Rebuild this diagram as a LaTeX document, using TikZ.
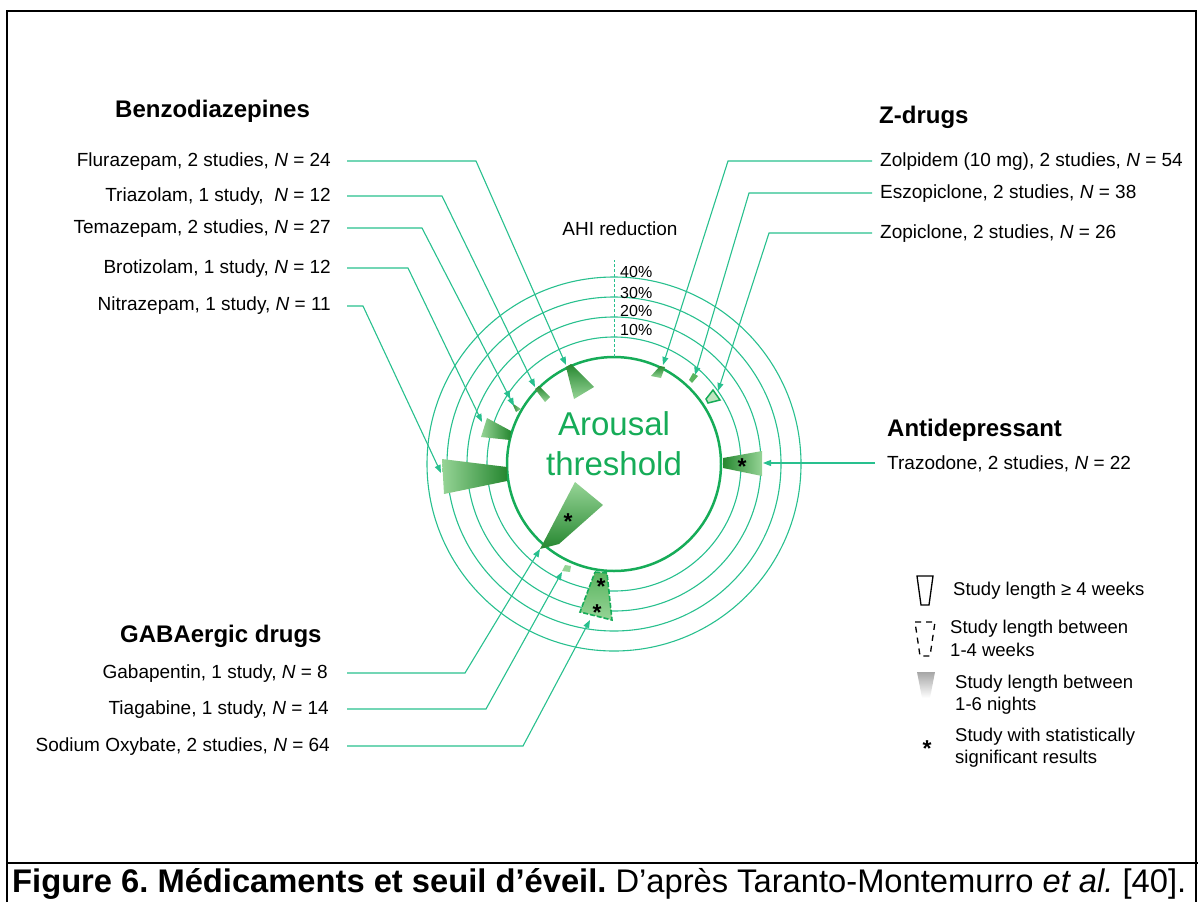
\documentclass[tikz,border=0pt]{standalone}
\usepackage{fontspec}
\setmainfont{Liberation Sans}
\usetikzlibrary{positioning}
\usetikzlibrary{arrows.meta}

\begin{document}
\frenchspacing
\begin{tikzpicture}[x=1pt, y=-1pt,
    ring/.style={draw=ringc, line width=1.1pt},
    arr/.style={draw=ringc, line width=1.1pt, -{Triangle[length=8pt,width=6pt]}},
    lbl/.style={anchor=base east, inner sep=0pt, font=\fontsize{19}{22}\selectfont},
    lblr/.style={anchor=base west, inner sep=0pt, font=\fontsize{19}{22}\selectfont},
    hd/.style={anchor=base west, inner sep=0pt, font=\fontsize{24}{28}\selectfont\bfseries},
    lgd/.style={anchor=base west, inner sep=0pt, font=\fontsize{18.5}{22}\selectfont},
    pct/.style={anchor=west, inner sep=0pt, font=\fontsize{16}{18}\selectfont},
    ast/.style={inner sep=0pt, anchor=base, yshift=-11pt, font=\fontsize{23}{23}\selectfont\bfseries}
    ]
\definecolor{ringc}{RGB}{40,192,142}
\definecolor{circc}{RGB}{22,172,88}
\definecolor{darkg}{RGB}{38,135,48}
\definecolor{midg}{RGB}{90,180,95}
\definecolor{lightg}{RGB}{150,212,150}
\useasboundingbox (0,0) rectangle (1198,902);
\draw[line width=2.5pt] (7,902) -- (7,11) -- (1196,11) -- (1196,902);
\draw[line width=2.7pt] (7,863) -- (1198,863);

\coordinate (CTR) at (614,464);
\foreach \r in {127,147,167,187}
    \draw[ring] (CTR) circle (\r);
\draw[circc, line width=2.5pt] (CTR) circle (107);
\draw[ringc, line width=0.8pt, dash pattern=on 3pt off 2pt] (614,357) -- (614,260);
\node[pct] (P10) at (620,330) {10\%};
\node[pct] (P20) at (620,311) {20\%};
\node[pct] (P30) at (620,293) {30\%};
\node[pct] (P40) at (620,272) {40\%};
\node[font=\fontsize{19}{22}\selectfont] (AHI) at (620,229) {AHI reduction};
\node[anchor=base, inner sep=0pt, text=circc, font=\fontsize{33}{36}\selectfont] (ATa) at (614,435) {Arousal};
\node[anchor=base, inner sep=0pt, text=circc, font=\fontsize{33}{36}\selectfont] (ATb) at (614,475) {threshold};

% wedges
\shade[left color=lightg, right color=darkg] (442,459) -- (507,467) -- (507,481) -- (444,494) -- cycle;
\shade[left color=lightg, right color=darkg] (487,418) -- (511,431) -- (510,440) -- (481,437) -- cycle;
\shade[left color=darkg, right color=lightg] (512,403) -- (521,409) -- (516,412) -- cycle;
\shade[top color=darkg, bottom color=lightg] (535,389) -- (539,386) -- (550,397) -- (545,402) -- cycle;
\shade[top color=darkg, bottom color=lightg] (566,367) -- (571,364) -- (594,387) -- (574,399) -- cycle;
\shade[top color=darkg, bottom color=lightg] (660,366) -- (665,367) -- (661,378) -- (651,376) -- cycle;
\fill[midg] (689,380) -- (693,373) -- (698,376) -- (692,383) -- cycle;
\draw[circc, line width=1.5pt, fill=lightg!60] (706,399) -- (713,390) -- (720,400) -- (708,403) -- cycle;
\shade[left color=darkg, right color=lightg] (723,458) -- (762,451) -- (762,476) -- (723,468) -- cycle;
\shade[bottom color=darkg, top color=lightg] (540,549) -- (575,482) -- (603,505) -- (559,544) -- cycle;
\fill[lightg] (565,565) -- (571,566) -- (570,572) -- (562,571) -- cycle;
\draw[circc, line width=1.6pt, dash pattern=on 5pt off 2pt, top color=midg, bottom color=lightg] (595,572) -- (607,573) -- (612,620) -- (580,612) -- cycle;
\node[ast] (STra) at (742,463) {*};
\node[ast] (SGab) at (568,518) {*};
\node[ast] (SSo1) at (601,583) {*};
\node[ast] (SSo2) at (597,609) {*};

% tips
\coordinate (TFlu) at (566,365);
\coordinate (TTri) at (535,387);
\coordinate (TTem) at (514,406);
\coordinate (TBro) at (482,422);
\coordinate (TNit) at (441,473);
\coordinate (TZol) at (663,365);
\coordinate (TEsz) at (695,375);
\coordinate (TZop) at (718,391);
\coordinate (TTra) at (763,463);
\coordinate (TGab) at (540,549);
\coordinate (TTia) at (562,572);
\coordinate (TSod) at (590,620);

\node[hd] (HBen) at (115,117) {Benzodiazepines};
\node[lbl] (LFlu) at (331,166) {Flurazepam, 2 studies, \textit{N} = 24};
\node[lbl] (LTri) at (331,201) {Triazolam, 1 study,\ \ \textit{N} = 12};
\node[lbl] (LTem) at (331,233) {Temazepam, 2 studies, \textit{N} = 27};
\node[lbl] (LBro) at (331,273) {Brotizolam, 1 study, \textit{N} = 12};
\node[lbl] (LNit) at (331,310) {Nitrazepam, 1 study, \textit{N} = 11};

\node[hd] (HZdr) at (879,123) {Z-drugs};
\node[lblr] (LZol) at (880,166) {Zolpidem (10 mg), 2 studies, \textit{N} = 54};
\node[lblr] (LEsz) at (880,198) {Eszopiclone, 2 studies, \textit{N} = 38};
\node[lblr] (LZop) at (880,238) {Zopiclone, 2 studies, \textit{N} = 26};

\node[hd] (HAnt) at (887,436) {Antidepressant};
\node[lblr] (LTra) at (887,469) {Trazodone, 2 studies, \textit{N} = 22};

\node[hd] (HGab) at (120,642) {GABAergic drugs};
\node[lbl] (LGab) at (328,678) {Gabapentin, 1 study, \textit{N} = 8};
\node[lbl] (LTia) at (329,714) {Tiagabine, 1 study, \textit{N} = 14};
\node[lbl] (LSod) at (330,751) {Sodium Oxybate, 2 studies, \textit{N} = 64};

\draw[arr] (LFlu.base east) ++(16,-5) -- (476,161) -- (TFlu);
\draw[arr] (LTri.base east) ++(16,-5) -- (442,196) -- (TTri);
\draw[arr, -{Triangle[length=8pt,width=6pt] Triangle[length=8pt,width=6pt]}] (LTem.base east) ++(16,-5) -- (422,228) -- (TTem);
\draw[arr] (LBro.base east) ++(16,-5) -- (408,268) -- (TBro);
\draw[arr] (LNit.base east) ++(16,-4) -- (363,306) -- (TNit);
\draw[arr] (LZol.base west) ++(-8,-5) -- (728,161) -- (TZol);
\draw[arr] (LEsz.base west) ++(-8,-5) -- (749,193) -- (TEsz);
\draw[arr] (LZop.base west) ++(-8,-5) -- (769,233) -- (TZop);
\draw[arr] (LTra.base west) ++(-12,-6) -- (TTra);
\draw[arr] (LGab.base east) ++(19,-5) -- (465,673) -- (TGab);
\draw[arr] (LTia.base east) ++(18,-5) -- (486,709) -- (TTia);
\draw[arr] (LSod.base east) ++(17,-5) -- (523,746) -- (TSod);

% legend
\draw[line width=1.3pt] (917,576) -- (933,576) -- (929,605) -- (921,605) -- cycle;
\draw[line width=1.3pt, dash pattern=on 6pt off 5pt] (915,622) -- (935,622) -- (930,656) -- (920,656) -- cycle;
\shade[top color=black!35, bottom color=white] (917,672) -- (935,672) -- (930,698) -- (922,698) -- cycle;
\node[ast] (SLeg) at (927,745) {*};
\node[lgd] (G1) at (953,595) {Study length ≥ 4 weeks};
\node[lgd] (G2a) at (950,633) {Study length between};
\node[lgd] (G2b) at (950,656) {1-4 weeks};
\node[lgd] (G3a) at (955,688) {Study length between};
\node[lgd] (G3b) at (955,710) {1-6 nights};
\node[lgd] (G4a) at (955,741) {Study with statistically};
\node[lgd] (G4b) at (955,763) {significant results};

\node[anchor=base west, inner sep=0pt, font=\fontsize{32.7}{36}\selectfont] (CAP) at (12,892) {\textbf{Figure 6. Médicaments et seuil d’éveil.} D’après Taranto-Montemurro \textit{et al.} [40].};
\end{tikzpicture}
\end{document}
